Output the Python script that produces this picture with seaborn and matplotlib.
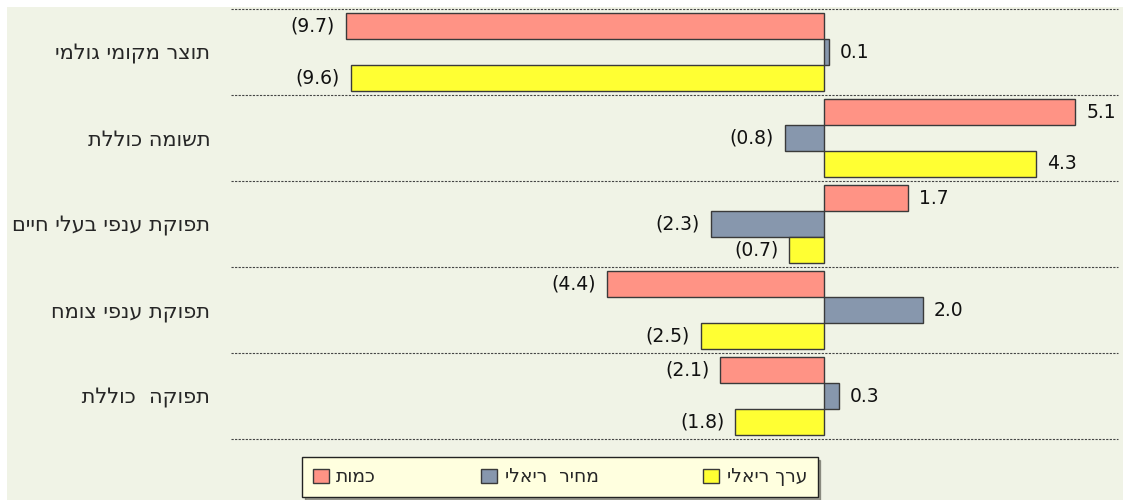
import pandas as pd
import numpy as np
import matplotlib
matplotlib.use("Agg")
import matplotlib.pyplot as plt
from matplotlib.patches import Rectangle
import seaborn as sns

categories = ["תוצר מקומי גולמי", "תשומה כוללת", "תפוקת ענפי בעלי חיים",
              "תפוקת ענפי צומח", "תפוקה  כוללת "]
series = ["כמות", "מחיר  ריאלי", "ערך ריאלי"]
quantity = [-9.7, 5.1, 1.7, -4.4, -2.1]
real_price = [0.1, -0.8, -2.3, 2.0, 0.3]
real_value = [-9.6, 4.3, -0.7, -2.5, -1.8]
colors = ["#FF9385", "#8797AD", "#FFFF33"]


def rtl(s):
    # matplotlib has no bidi, so flip hebrew text for display
    return s[::-1]


df = pd.DataFrame({
    "cat": [rtl(c) for c in categories] * 3,
    "series": [rtl(series[0])] * 5 + [rtl(series[1])] * 5 + [rtl(series[2])] * 5,
    "val": quantity + real_price + real_value,
})

sns.set_style("white")
plt.rcParams["font.family"] = ["DejaVu Sans"]

bg = "#F0F3E6"
fig = plt.figure(figsize=(11.23, 5.0), dpi=100, facecolor="white")
fig.patches.append(Rectangle((7 / 1123, 0), 1, 1 - 7 / 500, transform=fig.transFigure,
                             facecolor=bg, edgecolor="none", zorder=-10))
ax = fig.add_axes([231 / 1123, 1 - 439 / 500, (1118 - 231) / 1123, 430 / 500])
ax.set_facecolor(bg)

sns.barplot(data=df, y="cat", x="val", hue="series", orient="h", palette=colors,
            saturation=1, width=0.9, edgecolor="#3a3a3a", linewidth=1, ax=ax, legend=True)

ax.set_xlim((231 - 824) / 49.3, (1118 - 824) / 49.3)
ax.set_ylim(4.5, -0.5)
for y in np.arange(-0.5, 5, 1):
    ax.axhline(y, color="#444444", linestyle=(0, (2, 1.2)), linewidth=0.8, clip_on=False)

for cont, vals in zip(ax.containers, [quantity, real_price, real_value]):
    labs = [f"({abs(v):.1f})" if v < 0 else f"{v:.1f}" for v in vals]
    ax.bar_label(cont, labels=labs, padding=8, fontsize=13.5, color="#111111")

for s in ax.spines.values():
    s.set_visible(False)
ax.set_xticks([])
ax.set_xlabel("")
ax.set_ylabel("")
ax.tick_params(axis="y", length=0, pad=15, labelsize=15)

handles, labels = ax.get_legend_handles_labels()
ax.legend(handles, labels, loc="center", bbox_to_anchor=(560 / 1123, 1 - 477 / 500),
          bbox_transform=fig.transFigure, ncol=3, frameon=True, fancybox=False,
          shadow=True, facecolor="#FFFFDF", edgecolor="#222222", framealpha=1,
          fontsize=13.5, handlelength=0.85, handleheight=0.85, handletextpad=0.4,
          columnspacing=5.6, borderpad=0.55)

fig.savefig("out.png", dpi=100, facecolor=fig.get_facecolor())
